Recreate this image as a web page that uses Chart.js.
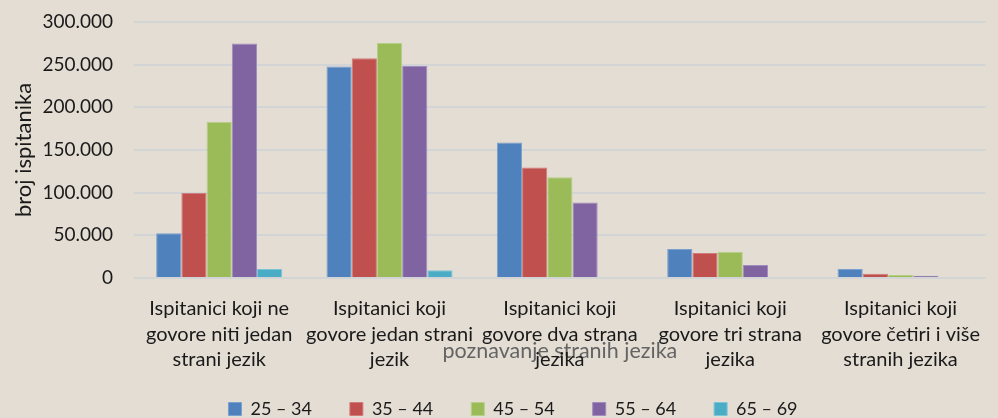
<!DOCTYPE html>
<html>
<head>
<meta charset="utf-8">
<script src="https://cdn.jsdelivr.net/npm/chart.js@4/dist/chart.umd.min.js"></script>
<style>
html,body{margin:0;padding:0;background:#e4ddd3;}
#wrap{width:998px;height:418px;position:relative;}
</style>
</head>
<body>
<div id="wrap"><canvas id="c" width="998" height="418"></canvas></div>
<script>
const categories = [
  ["Ispitanici koji ne","govore niti jedan","strani jezik"],
  ["Ispitanici koji","govore jedan strani","jezik"],
  ["Ispitanici koji","govore dva strana","jezika"],
  ["Ispitanici koji","govore tri strana","jezika"],
  ["Ispitanici koji","govore četiri i više","stranih jezika"]
];
const seriesNames = ["25 – 34","35 – 44","45 – 54","55 – 64","65 – 69"];
const age25_34 = [52500, 247800, 158800, 34000, 10500];
const age35_44 = [99500, 257500, 129600, 29300, 5000];
const age45_54 = [183000, 275400, 118200, 30800, 3500];
const age55_64 = [274700, 248500, 88600, 15200, 2700];
const age65_69 = [10500, 9000, 0, 0, 0];
const yTicks = [0, 50000, 100000, 150000, 200000, 250000, 300000];
const yTitle = "broj ispitanika";
const xTitle = "poznavanje stranih jezika";

const fills = ["#4f81bd","#c0504d","#9bbb59","#8064a2","#4bacc6"];
const edges = ["#7aa0cf","#d27c7a","#b5cf85","#a28bbf","#7cc4d8"];
const values = [age25_34, age35_44, age45_54, age55_64, age65_69];

const fontFam = "Lato, 'Open Sans', sans-serif";
const fmt = v => v === 0 ? "0" : String(v).replace(/\B(?=(\d{3})+(?!\d))/g, ".");

new Chart(document.getElementById('c'), {
  type: 'bar',
  data: {
    labels: categories,
    datasets: seriesNames.map((n, i) => ({
      label: n,
      data: values[i],
      backgroundColor: fills[i],
      borderColor: edges[i],
      borderWidth: 1,
      categoryPercentage: 0.74,
      barPercentage: 1.0
    }))
  },
  options: {
    responsive: false,
    animation: false,
    layout: { padding: { top: 0, right: 0, left: 28, bottom: -10 } },
    plugins: {
      legend: {
        position: 'bottom',
        labels: {
          boxWidth: 13, boxHeight: 13, padding: 38,
          color: '#1a1a1a',
          font: { family: fontFam, size: 18 }
        }
      },
      tooltip: { enabled: false }
    },
    scales: {
      x: {
        afterFit: s => { s._computeLabelArea = () => undefined; },
        grid: { display: false, drawTicks: false },
        border: { display: false },
        ticks: {
          color: '#1a1a1a',
          font: { family: fontFam, size: 20, lineHeight: 1.27 },
          maxRotation: 0, autoSkip: false, padding: 18
        },
        title: {
          display: true, text: xTitle, color: '#646464',
          font: { family: fontFam, size: 21.5 },
          padding: { top: -52, bottom: -2 }
        }
      },
      y: {
        min: 0, max: 300000,
        afterBuildTicks: s => { s.ticks = yTicks.map(v => ({ value: v })); },
        afterFit: s => { s.paddingTop = 22; },
        grid: { color: '#d3d4d6', lineWidth: 2, drawTicks: false },
        border: { display: false },
        ticks: {
          color: '#1a1a1a', padding: 21,
          font: { family: fontFam, size: 19 },
          callback: v => fmt(v)
        },
        title: {
          display: true, text: yTitle, color: '#1a1a1a',
          font: { family: fontFam, size: 22 },
          padding: { top: -17, bottom: -16 }
        }
      }
    }
  }
});
</script>
</body>
</html>
